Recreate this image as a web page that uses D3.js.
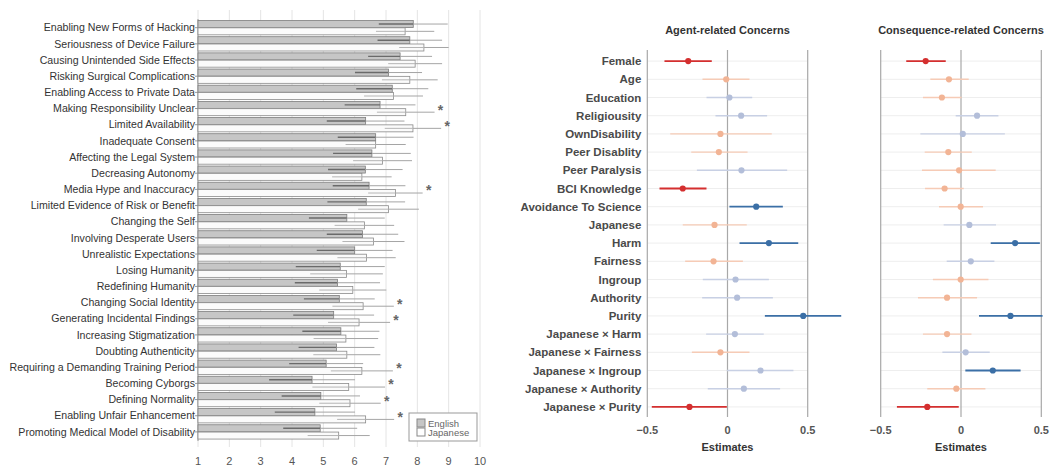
<!DOCTYPE html>
<html>
<head>
<meta charset="utf-8">
<script src="https://cdn.jsdelivr.net/npm/d3@7"></script>
<style>
  body { margin: 0; background: #fff; }
  svg { display: block; font-family: "Liberation Sans", Arial, Helvetica, sans-serif; }
</style>
</head>
<body>
<div class="box"></div>
<script>
// LEFT: mean concern ratings per language
const concerns = [
    "Enabling New Forms of Hacking", "Seriousness of Device Failure", "Causing Unintended Side Effects",
    "Risking Surgical Complications", "Enabling Access to Private Data", "Making Responsibility Unclear",
    "Limited Availability", "Inadequate Consent", "Affecting the Legal System", "Decreasing Autonomy",
    "Media Hype and Inaccuracy", "Limited Evidence of Risk or Benefit", "Changing the Self",
    "Involving Desperate Users", "Unrealistic Expectations", "Losing Humanity", "Redefining Humanity",
    "Changing Social Identity", "Generating Incidental Findings", "Increasing Stigmatization",
    "Doubting Authenticity", "Requiring a Demanding Training Period", "Becoming Cyborgs",
    "Defining Normality", "Enabling Unfair Enhancement", "Promoting Medical Model of Disability"
];
const englishMean = [7.87, 7.76, 7.45, 7.08, 7.20, 6.81, 6.35, 6.67, 6.55, 6.34, 6.46, 6.37, 5.75,
                     6.25, 6.00, 5.54, 5.45, 5.51, 5.33, 5.56, 5.42, 5.09, 4.64, 4.92, 4.73, 4.90];
const englishSD   = [1.10, 1.03, 1.02, 1.07, 1.15, 1.13, 1.24, 1.21, 1.24, 1.19, 1.16, 1.24, 1.21,
                     1.14, 1.21, 1.42, 1.36, 1.13, 1.29, 1.23, 1.21, 1.18, 1.37, 1.25, 1.28, 1.18];
const japaneseMean = [7.61, 8.21, 7.93, 7.76, 7.24, 7.63, 7.86, 6.67, 6.89, 6.23, 7.30, 7.08, 6.31,
                      6.60, 6.38, 5.74, 5.94, 6.27, 6.14, 5.72, 5.75, 6.23, 5.81, 5.85, 6.35, 5.49];
const japaneseSD   = [0.93, 0.79, 0.86, 0.89, 0.94, 0.92, 0.90, 0.96, 0.94, 0.95, 0.87, 0.97, 0.95,
                      0.99, 0.93, 1.16, 1.07, 0.98, 0.99, 1.03, 1.07, 0.99, 1.16, 0.98, 0.91, 0.99];
const significant = [5, 6, 10, 17, 18, 21, 22, 23, 24];   // rows marked with *
const ratingTicks = [1, 2, 3, 4, 5, 6, 7, 8, 9, 10];

// RIGHT: regression estimates with 95% CI
const predictors = [
    "Female", "Age", "Education", "Religiousity", "OwnDisability", "Peer Disablity", "Peer Paralysis",
    "BCI Knowledge", "Avoidance To Science", "Japanese", "Harm", "Fairness", "Ingroup", "Authority",
    "Purity", "Japanese × Harm", "Japanese × Fairness", "Japanese × Ingroup", "Japanese × Authority",
    "Japanese × Purity"
];
const agentEst = [-0.245, -0.008, 0.012, 0.085, -0.044, -0.054, 0.087, -0.279, 0.179, -0.081,
                  0.258, -0.087, 0.050, 0.060, 0.472, 0.046, -0.044, 0.206, 0.102, -0.237];
const agentLo  = [-0.393, -0.156, -0.131, -0.075, -0.357, -0.226, -0.191, -0.424, 0.012, -0.279,
                  0.075, -0.264, -0.154, -0.158, 0.233, -0.133, -0.222, -0.004, -0.123, -0.472];
const agentHi  = [-0.098, 0.137, 0.154, 0.247, 0.276, 0.125, 0.372, -0.131, 0.345, 0.120,
                  0.441, 0.096, 0.258, 0.283, 0.709, 0.226, 0.137, 0.411, 0.328, -0.004];
const consEst = [-0.220, -0.075, -0.119, 0.100, 0.011, -0.079, -0.012, -0.102, -0.002, 0.052,
                 0.337, 0.061, -0.002, -0.087, 0.308, -0.087, 0.029, 0.198, -0.029, -0.210];
const consLo  = [-0.341, -0.191, -0.237, -0.033, -0.253, -0.226, -0.243, -0.224, -0.137, -0.108,
                 0.185, -0.089, -0.175, -0.268, 0.112, -0.237, -0.116, 0.027, -0.210, -0.399];
const consHi  = [-0.095, 0.048, 0.004, 0.233, 0.273, 0.067, 0.216, 0.017, 0.137, 0.218,
                 0.491, 0.208, 0.171, 0.100, 0.508, 0.065, 0.179, 0.371, 0.152, -0.014];
const estTicks = [-0.5, 0, 0.5];

const W = 1053, H = 468;
const svg = d3.select(".box").append("svg").attr("width", W).attr("height", H);

/////////////////////////////////////////////////////////////////
// BAR CHART
const x = d3.scaleLinear().domain([1, 10]).range([198, 480]);
const y = d3.scaleBand().domain(concerns).range([19.6, 440]).paddingInner(0.08).paddingOuter(0.04);
const sub = d3.scaleBand().domain(["English", "Japanese"]).range([0, y.bandwidth()]).padding(0.04);

const left = svg.append("g");

left.selectAll(".grid")
    .data(ratingTicks)
    .enter()
    .append("line")
    .attr("x1", d => x(d)).attr("x2", d => x(d))
    .attr("y1", 10).attr("y2", 447)
    .style("stroke", "#e4e4e4");

left.selectAll(".xtick")
    .data(ratingTicks)
    .enter()
    .append("text")
    .attr("x", d => x(d))
    .attr("y", 465)
    .attr("text-anchor", "middle")
    .style("font-size", "11px")
    .style("fill", "#555")
    .text(d => d);

// left axis with tiny ticks
left.append("line")
    .attr("x1", x(1)).attr("x2", x(1)).attr("y1", 19).attr("y2", 441)
    .style("stroke", "#999");

const rows = concerns.map((c, i) => ({
    name: c, en: englishMean[i], enSD: englishSD[i],
    ja: japaneseMean[i], jaSD: japaneseSD[i], star: significant.includes(i)
}));

const row = left.selectAll(".row")
    .data(rows)
    .enter()
    .append("g")
    .attr("transform", d => "translate(0," + y(d.name) + ")");

row.append("line")
    .attr("x1", x(1) - 3).attr("x2", x(1))
    .attr("y1", y.bandwidth() / 2).attr("y2", y.bandwidth() / 2)
    .style("stroke", "#999");

row.append("text")
    .attr("x", x(1) - 3)
    .attr("y", y.bandwidth() / 2)
    .attr("dy", "0.35em")
    .attr("text-anchor", "end")
    .style("font-size", "10.6px")
    .style("fill", "#333")
    .text(d => d.name);

// English bars
row.append("rect")
    .attr("x", x(1))
    .attr("y", sub("English"))
    .attr("width", d => x(d.en) - x(1))
    .attr("height", sub.bandwidth())
    .style("fill", "#c6c6c6")
    .style("stroke", "#7d7d7d")
    .style("stroke-width", 0.8);

// Japanese bars
row.append("rect")
    .attr("x", x(1))
    .attr("y", sub("Japanese"))
    .attr("width", d => x(d.ja) - x(1))
    .attr("height", sub.bandwidth())
    .style("fill", "#fbfbfb")
    .style("stroke", "#8a8a8a")
    .style("stroke-width", 0.8);

// Error bars: darker inside the bar, lighter outside
const eY = d => sub("English") + sub.bandwidth() / 2;
const jY = d => sub("Japanese") + sub.bandwidth() / 2;

row.append("line")
    .attr("x1", d => x(d.en - d.enSD)).attr("x2", d => x(d.en))
    .attr("y1", eY).attr("y2", eY)
    .style("stroke", "#6a6a6a").style("stroke-width", 1.4);
row.append("line")
    .attr("x1", d => x(d.en)).attr("x2", d => x(d.en + d.enSD))
    .attr("y1", eY).attr("y2", eY)
    .style("stroke", "#a5a5a5").style("stroke-width", 1);
row.append("line")
    .attr("x1", d => x(d.ja - d.jaSD)).attr("x2", d => x(d.ja))
    .attr("y1", jY).attr("y2", jY)
    .style("stroke", "#b5b5b5").style("stroke-width", 1);
row.append("line")
    .attr("x1", d => x(d.ja)).attr("x2", d => x(d.ja + d.jaSD))
    .attr("y1", jY).attr("y2", jY)
    .style("stroke", "#a5a5a5").style("stroke-width", 1);

row.filter(d => d.star)
    .append("text")
    .attr("x", d => x(Math.max(d.en + d.enSD, d.ja + d.jaSD)) + 6)
    .attr("y", y.bandwidth() / 2 + 6)
    .attr("text-anchor", "middle")
    .style("font-size", "14px")
    .style("font-weight", "bold")
    .style("fill", "#666")
    .text("*");

// Legend
const legend = left.append("g").attr("transform", "translate(409,413)");
legend.append("rect")
    .attr("width", 68).attr("height", 28)
    .style("fill", "#fff").style("stroke", "#999");
legend.selectAll(".sw")
    .data(["English", "Japanese"])
    .enter()
    .append("rect")
    .attr("x", 8).attr("y", (d, i) => 6 + i * 9)
    .attr("width", 8).attr("height", 8)
    .style("fill", (d, i) => i === 0 ? "#c6c6c6" : "#fff")
    .style("stroke", "#888");
legend.selectAll(".lt")
    .data(["English", "Japanese"])
    .enter()
    .append("text")
    .attr("x", 19).attr("y", (d, i) => 13.5 + i * 9)
    .style("font-size", "9.5px")
    .style("fill", "#666")
    .text(d => d);

/////////////////////////////////////////////////////////////////
// COEFFICIENT PLOTS
const yP = d3.scalePoint().domain(predictors).range([52, 416]).padding(0.5);

const colorOf = (est, lo, hi, part) => {
    const sig = lo > 0 || hi < 0;
    if (est < 0) return sig ? "#d42f2f" : (part === "dot" ? "#f2b495" : "#f6cbb6");
    return sig ? "#3b6fa6" : (part === "dot" ? "#b3bed9" : "#c8d0e4");
};

function coefPanel(title, xs, est, lo, hi, showLabels) {
    const g = svg.append("g");
    const [x0, x1] = xs.range();

    g.selectAll(".hgrid")
        .data(predictors)
        .enter()
        .append("line")
        .attr("x1", x0).attr("x2", x1)
        .attr("y1", d => yP(d)).attr("y2", d => yP(d))
        .style("stroke", "#eeeeee");

    g.selectAll(".vgrid")
        .data(estTicks)
        .enter()
        .append("line")
        .attr("x1", d => xs(d)).attr("x2", d => xs(d))
        .attr("y1", 50).attr("y2", 417)
        .style("stroke", "#a8a8a8")
        .style("stroke-width", 1.2);

    g.selectAll(".tick")
        .data(estTicks)
        .enter()
        .append("text")
        .attr("x", d => xs(d))
        .attr("y", 434)
        .attr("text-anchor", "middle")
        .style("font-size", "11px")
        .style("font-weight", "bold")
        .style("fill", "#555")
        .text(d => d === 0 ? "0" : d3.format(".1f")(d).replace("-", "\u2212"));

    g.append("text")
        .attr("x", xs(0)).attr("y", 451)
        .attr("text-anchor", "middle")
        .style("font-size", "11px")
        .style("font-weight", "bold")
        .style("fill", "#333")
        .text("Estimates");

    g.append("text")
        .attr("x", xs(0)).attr("y", 34)
        .attr("text-anchor", "middle")
        .style("font-size", "11px")
        .style("font-weight", "bold")
        .style("fill", "#333")
        .text(title);

    if (showLabels) {
        g.selectAll(".lab")
            .data(predictors)
            .enter()
            .append("text")
            .attr("x", x0 - 6)
            .attr("y", d => yP(d))
            .attr("dy", "0.35em")
            .attr("text-anchor", "end")
            .style("font-size", "11.5px")
            .style("font-weight", "bold")
            .style("fill", "#4a4a4a")
            .text(d => d);
    }

    const pts = predictors.map((p, i) => ({ p: p, e: est[i], lo: lo[i], hi: hi[i] }));

    g.selectAll(".ci")
        .data(pts)
        .enter()
        .append("line")
        .attr("x1", d => xs(d.lo)).attr("x2", d => xs(d.hi))
        .attr("y1", d => yP(d.p)).attr("y2", d => yP(d.p))
        .style("stroke", d => colorOf(d.e, d.lo, d.hi, "line"))
        .style("stroke-width", d => (d.lo > 0 || d.hi < 0) ? 1.8 : 1.4);

    g.selectAll(".dot")
        .data(pts)
        .enter()
        .append("circle")
        .attr("cx", d => xs(d.e))
        .attr("cy", d => yP(d.p))
        .attr("r", 3.1)
        .style("fill", d => colorOf(d.e, d.lo, d.hi, "dot"));
}

coefPanel("Agent-related Concerns",
    d3.scaleLinear().domain([-0.5, 0.5]).range([647.3, 807.7]),
    agentEst, agentLo, agentHi, true);
coefPanel("Consequence-related Concerns",
    d3.scaleLinear().domain([-0.5, 0.5]).range([880.7, 1041.3]),
    consEst, consLo, consHi, false);
</script>
</body>
</html>
